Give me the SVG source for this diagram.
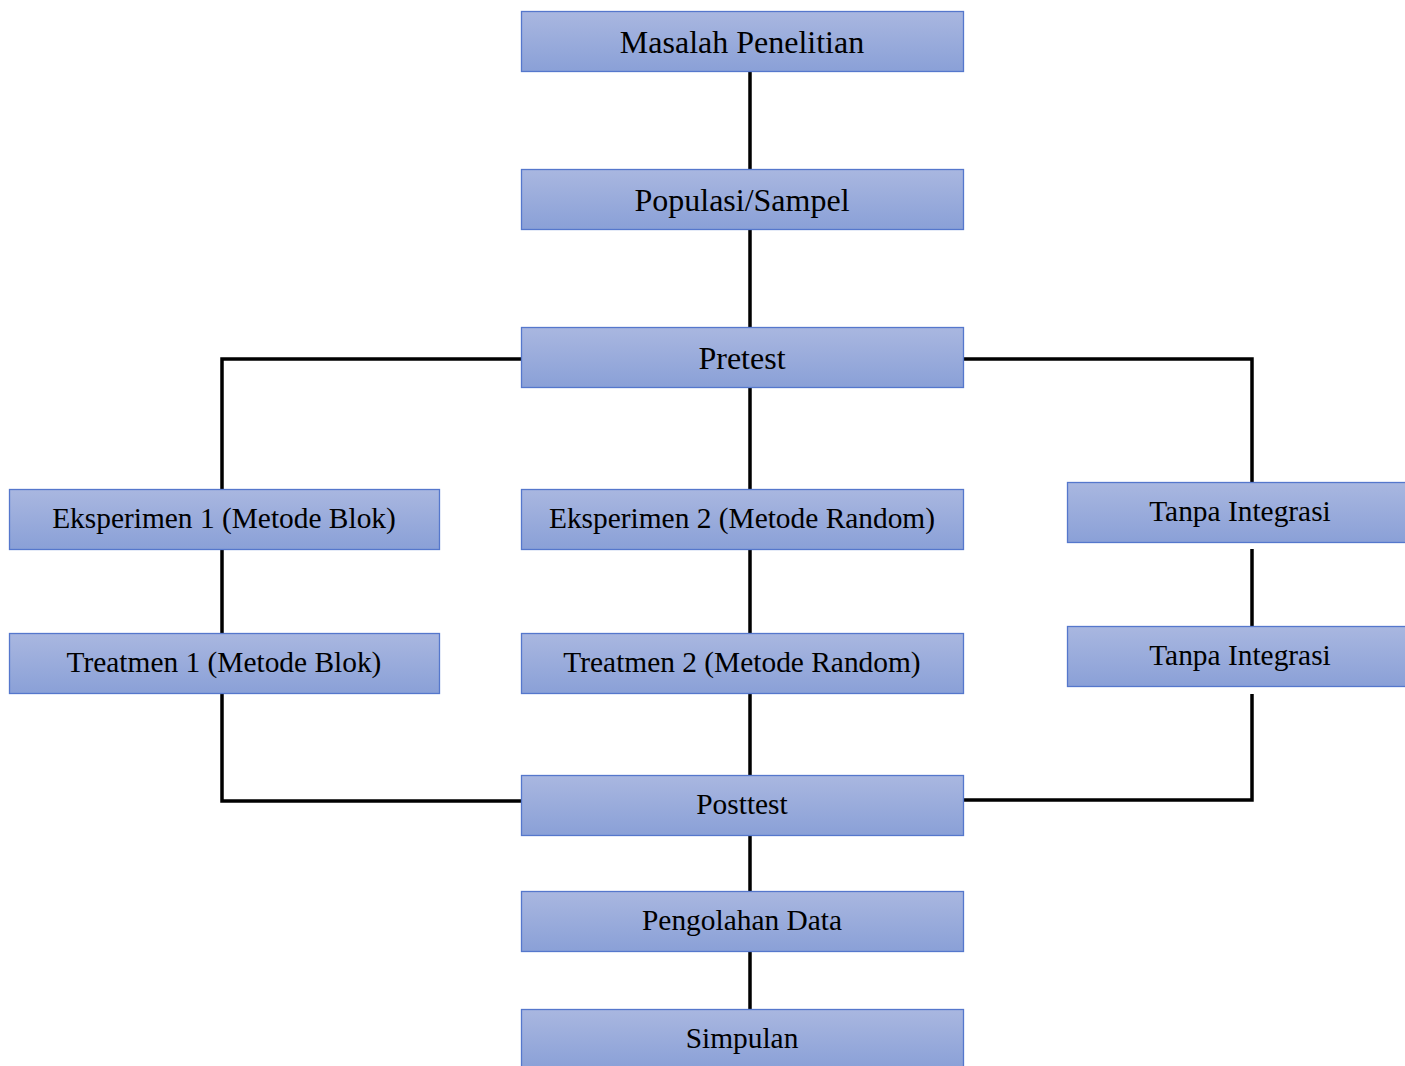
<svg xmlns="http://www.w3.org/2000/svg" width="1405" height="1066" viewBox="0 0 1405 1066">
<defs>
<linearGradient id="g" x1="0" y1="0" x2="0" y2="1">
<stop offset="0" stop-color="#a9b7e0"/>
<stop offset="1" stop-color="#8aa0d7"/>
</linearGradient>
</defs>
<style>
.box{fill:url(#g);stroke:#5577cc;stroke-width:1.3}
.t{font-family:"Liberation Serif","Times New Roman",serif;font-size:29.4px;fill:#000;text-anchor:middle}
.big{font-size:32px}
.c{fill:none;stroke:#000;stroke-width:3.5;stroke-linejoin:miter}
</style>
<rect width="1405" height="1066" fill="#fff"/>
<g id="connectors">
<path class="c" d="M750 71V169M750 229V327M750 387V489M750 549V633M750 693V775M750 835V891M750 951V1009"/>
<path class="c" d="M521 359H222V489"/>
<path class="c" d="M964 359H1252V484"/>
<path class="c" d="M222 549V633"/>
<path class="c" d="M1252 549V633"/>
<path class="c" d="M222 693V801H521"/>
<path class="c" d="M1252 694V800H964"/>
</g>
<g id="masalah"><rect class="box" x="521.5" y="11.5" width="442" height="60"/><text class="t big" x="742" y="53">Masalah Penelitian</text></g>
<g id="populasi"><rect class="box" x="521.5" y="169.5" width="442" height="60"/><text class="t big" x="742" y="211">Populasi/Sampel</text></g>
<g id="pretest"><rect class="box" x="521.5" y="327.5" width="442" height="60"/><text class="t big" x="742" y="369">Pretest</text></g>
<g id="eksperimen1"><rect class="box" x="9.5" y="489.5" width="430" height="60"/><text class="t" x="224" y="528">Eksperimen 1 (Metode Blok)</text></g>
<g id="eksperimen2"><rect class="box" x="521.5" y="489.5" width="442" height="60"/><text class="t" x="742" y="528">Eksperimen 2 (Metode Random)</text></g>
<g id="tanpa1"><rect class="box" x="1067.5" y="482.5" width="346" height="60"/><text class="t" x="1240" y="521">Tanpa Integrasi</text></g>
<g id="treatmen1"><rect class="box" x="9.5" y="633.5" width="430" height="60"/><text class="t" x="224" y="672">Treatmen 1 (Metode Blok)</text></g>
<g id="treatmen2"><rect class="box" x="521.5" y="633.5" width="442" height="60"/><text class="t" x="742" y="672">Treatmen 2 (Metode Random)</text></g>
<g id="tanpa2"><rect class="box" x="1067.5" y="626.5" width="346" height="60"/><text class="t" x="1240" y="665">Tanpa Integrasi</text></g>
<g id="posttest"><rect class="box" x="521.5" y="775.5" width="442" height="60"/><text class="t" x="742" y="814">Posttest</text></g>
<g id="pengolahan"><rect class="box" x="521.5" y="891.5" width="442" height="60"/><text class="t" x="742" y="930">Pengolahan Data</text></g>
<g id="simpulan"><rect class="box" x="521.5" y="1009.5" width="442" height="60"/><text class="t" x="742" y="1048">Simpulan</text></g>
</svg>
